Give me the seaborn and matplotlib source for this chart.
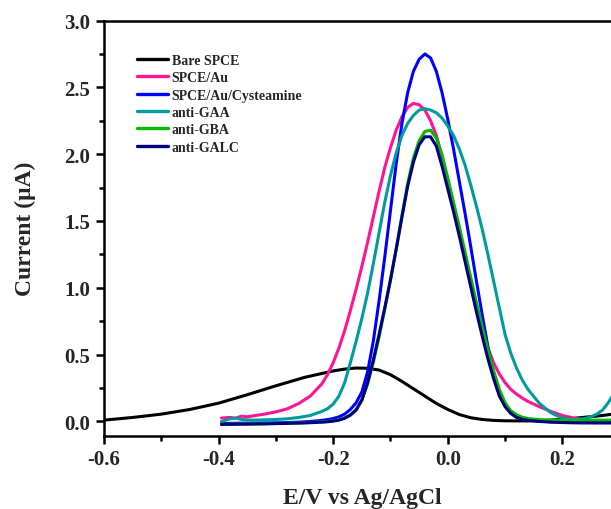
import numpy as np
import pandas as pd
import matplotlib
matplotlib.use("Agg")
import matplotlib.pyplot as plt
import seaborn as sns
from matplotlib.ticker import MultipleLocator, FuncFormatter

# ---- data ----
series_names = ["Bare SPCE", "SPCE/Au", "SPCE/Au/Cysteamine", "anti-GAA", "anti-GBA", "anti-GALC"]
series_colors = ["#000000", "#FF1493", "#0000FF", "#009B9B", "#00BB00", "#000080"]

e_bare = [-0.6, -0.55, -0.5, -0.45, -0.4, -0.35, -0.3, -0.25, -0.2, -0.18, -0.16, -0.14, -0.12,
          -0.1, -0.08, -0.06, -0.04, -0.02, 0.0, 0.02, 0.04, 0.06, 0.08, 0.10, 0.14, 0.18,
          0.20, 0.22, 0.24, 0.26, 0.28, 0.30]
i_bare = [0.01, 0.03, 0.055, 0.09, 0.137, 0.20, 0.267, 0.33, 0.378, 0.392, 0.40, 0.398, 0.385,
          0.35, 0.30, 0.245, 0.19, 0.135, 0.09, 0.052, 0.028, 0.015, 0.008, 0.005, 0.004, 0.01,
          0.017, 0.024, 0.032, 0.04, 0.05, 0.065]

e_mod = [-0.395, -0.38, -0.37, -0.36, -0.35, -0.34, -0.32, -0.30, -0.28, -0.26, -0.24, -0.22, -0.21,
         -0.20, -0.19, -0.18, -0.17, -0.16, -0.15, -0.14, -0.13, -0.12, -0.11, -0.10, -0.09, -0.08,
         -0.07, -0.06, -0.05, -0.04, -0.03, -0.02, -0.01, 0.00, 0.01, 0.02, 0.03, 0.04, 0.05, 0.06,
         0.07, 0.08, 0.09, 0.10, 0.11, 0.12, 0.13, 0.14, 0.16, 0.18, 0.20, 0.22, 0.24, 0.25, 0.26,
         0.27, 0.28, 0.29, 0.30]

i_au = [0.026, 0.03, 0.025, 0.04, 0.035, 0.042, 0.055, 0.072, 0.095, 0.135, 0.19, 0.28, 0.35,
        0.44, 0.55, 0.68, 0.83, 0.99, 1.16, 1.34, 1.53, 1.72, 1.90, 2.05, 2.18, 2.28,
        2.35, 2.38, 2.37, 2.33, 2.25, 2.14, 1.99, 1.81, 1.62, 1.42, 1.22, 1.02, 0.84, 0.68,
        0.55, 0.44, 0.355, 0.29, 0.24, 0.205, 0.175, 0.15, 0.11, 0.075, 0.045, 0.025, 0.012, 0.008, 0.006,
        0.005, 0.005, 0.005, 0.005]

i_cys = [-0.015, -0.014, -0.013, -0.013, -0.012, -0.012, -0.011, -0.01, -0.008, -0.005, 0.0, 0.008, 0.014,
         0.022, 0.035, 0.055, 0.09, 0.14, 0.22, 0.37, 0.60, 0.90, 1.23, 1.58, 1.93, 2.23,
         2.46, 2.62, 2.71, 2.75, 2.72, 2.62, 2.46, 2.26, 2.04, 1.80, 1.56, 1.31, 1.05, 0.80,
         0.56, 0.36, 0.21, 0.12, 0.07, 0.04, 0.022, 0.012, 0.003, -0.002, -0.005, -0.006, -0.007, -0.008, -0.008,
         -0.008, -0.008, -0.008, -0.008]

i_gaa = [0.0, 0.02, 0.025, 0.015, 0.012, 0.01, 0.012, 0.015, 0.02, 0.03, 0.045, 0.075, 0.095,
         0.13, 0.19, 0.29, 0.44, 0.60, 0.77, 0.96, 1.18, 1.41, 1.64, 1.84, 2.01, 2.14,
         2.23, 2.29, 2.33, 2.34, 2.33, 2.31, 2.27, 2.21, 2.14, 2.04, 1.92, 1.77, 1.61, 1.44,
         1.25, 1.05, 0.85, 0.65, 0.51, 0.40, 0.31, 0.24, 0.135, 0.065, 0.025, 0.013, 0.022, 0.035, 0.055,
         0.085, 0.14, 0.21, 0.30]

i_gba = [-0.02, -0.02, -0.019, -0.019, -0.018, -0.018, -0.016, -0.015, -0.013, -0.011, -0.008, -0.003, 0.0,
         0.005, 0.013, 0.027, 0.05, 0.09, 0.16, 0.28, 0.44, 0.63, 0.84, 1.06, 1.29, 1.54,
         1.78, 1.97, 2.10, 2.17, 2.18, 2.12, 1.99, 1.82, 1.64, 1.46, 1.27, 1.08, 0.89, 0.71,
         0.54, 0.38, 0.24, 0.14, 0.08, 0.05, 0.032, 0.022, 0.014, 0.01, 0.009, 0.009, 0.009, 0.009, 0.01,
         0.01, 0.01, 0.011, 0.012]

i_galc = [-0.022, -0.021, -0.021, -0.02, -0.02, -0.019, -0.018, -0.016, -0.014, -0.012, -0.009, -0.005, -0.002,
          0.003, 0.01, 0.024, 0.047, 0.085, 0.16, 0.29, 0.46, 0.65, 0.85, 1.06, 1.29, 1.53,
          1.76, 1.94, 2.07, 2.13, 2.13, 2.06, 1.91, 1.74, 1.57, 1.39, 1.20, 1.01, 0.82, 0.64,
          0.47, 0.32, 0.19, 0.11, 0.06, 0.03, 0.016, 0.008, 0.0, -0.005, -0.008, -0.01, -0.011, -0.011, -0.011,
          -0.011, -0.011, -0.011, -0.011]

x_ticks = [-0.6, -0.4, -0.2, 0.0, 0.2]
y_ticks = [0.0, 0.5, 1.0, 1.5, 2.0, 2.5, 3.0]

# ---- build table ----
frames = [pd.DataFrame({"E": e_bare, "I": i_bare, "series": series_names[0]})]
for name, vals in zip(series_names[1:], [i_au, i_cys, i_gaa, i_gba, i_galc]):
    frames.append(pd.DataFrame({"E": e_mod, "I": vals, "series": name}))
df = pd.concat(frames, ignore_index=True)

# ---- style ----
sns.set_style("ticks")
plt.rcParams["font.family"] = ["Liberation Serif", "DejaVu Serif"]
plt.rcParams["font.weight"] = "bold"
plt.rcParams["axes.unicode_minus"] = False

fig = plt.figure(figsize=(6.11, 5.10), dpi=100)
ax = fig.add_axes([0.1702, 0.1441, 0.844, 0.8137])

sns.lineplot(data=df, x="E", y="I", hue="series", hue_order=series_names,
             palette=series_colors, sort=False, estimator=None, units="series",
             linewidth=2.2, ax=ax)

ax.set_xlim(-0.6, 0.3)
ax.set_ylim(-0.105, 3.0)
ax.set_xticks(x_ticks)
ax.set_yticks(y_ticks)
ax.xaxis.set_minor_locator(MultipleLocator(0.1))
ax.yaxis.set_minor_locator(MultipleLocator(0.25))
fmt = FuncFormatter(lambda v, p: f"{round(v, 1):.1f}".replace("-0.0", "0.0"))
ax.xaxis.set_major_formatter(fmt)
ax.yaxis.set_major_formatter(fmt)

ax.tick_params(axis="both", which="major", direction="out", length=6, width=1.8,
               labelsize=15, pad=4, color="black")
ax.tick_params(axis="both", which="minor", direction="out", length=3.5, width=1.8, color="black")
ax.tick_params(top=False, right=False, which="both")
for lab in ax.get_xticklabels() + ax.get_yticklabels():
    lab.set_fontweight("bold")

for s in ax.spines.values():
    s.set_linewidth(1.8)
    s.set_color("black")

ax.set_xlabel("E/V vs Ag/AgCl", fontsize=17, fontweight="bold", labelpad=13)
ax.set_ylabel("Current (\u03bcA)", fontsize=17, fontweight="bold", labelpad=20)

handles, labels = ax.get_legend_handles_labels()
for h in handles:
    h.set_linewidth(2.4)
ax.legend(handles, labels, loc="upper left", bbox_to_anchor=(137 / 611, 1 - 55 / 510),
          bbox_transform=fig.transFigure, frameon=False,
          prop={"weight": "bold", "size": 10, "family": "Liberation Serif"},
          handlelength=2.2, handletextpad=0.3, labelspacing=0.31, borderpad=0, borderaxespad=0)

fig.savefig("out.png", dpi=100)
